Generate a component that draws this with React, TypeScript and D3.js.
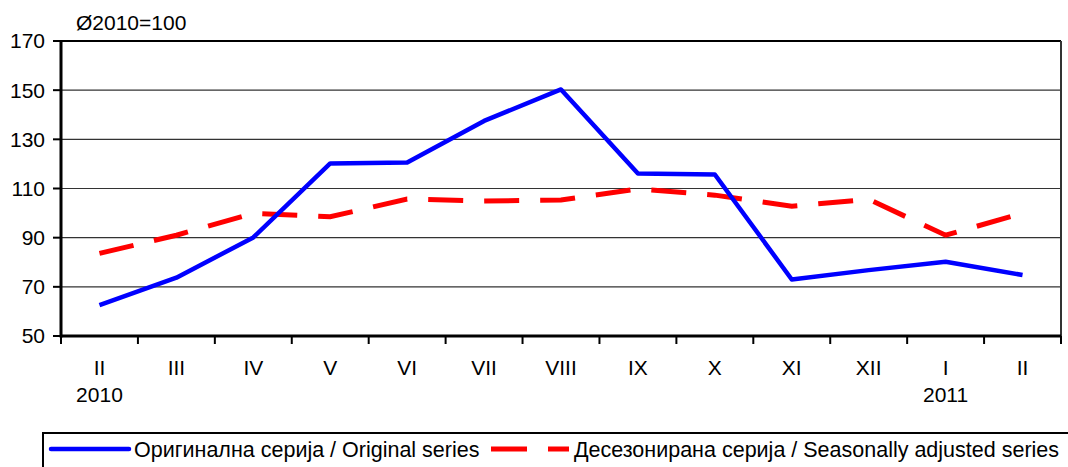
import React from "react";
import * as d3 from "d3";

const months = ["II", "III", "IV", "V", "VI", "VII", "VIII", "IX", "X", "XI", "XII", "I", "II"];
const yearLabels = [
  { index: 0, label: "2010" },
  { index: 11, label: "2011" },
];
const originalSeries = [62.6, 73.7, 90.1, 120.2, 120.6, 137.5, 150.3, 116.1, 115.7, 73.0, 76.8, 80.2, 74.8];
const adjustedSeries = [83.6, 91.0, 99.9, 98.5, 105.7, 104.9, 105.3, 109.8, 107.3, 102.8, 105.6, 91.0, 100.0];
const yTicks = [50, 70, 90, 110, 130, 150, 170];
const unitLabel = "Ø2010=100";
const legendOriginal = "Оригинална серија / Original series";
const legendAdjusted = "Десезонирана серија / Seasonally adjusted series";

const W = 1068;
const H = 467;
const left = 61;
const right = 1061;
const top = 41;
const bottom = 336;
const font = "'Liberation Sans', Arial, sans-serif";

export default function App() {
  const x = d3.scaleBand<number>().domain(d3.range(months.length)).range([left, right]).paddingInner(0).paddingOuter(0);
  const y = d3.scaleLinear().domain([50, 170]).range([bottom, top]);
  const cx = (i: number) => (x(i) as number) + x.bandwidth() / 2;
  const line = d3
    .line<number>()
    .x((_, i) => cx(i))
    .y((d) => y(d));

  const tickXs = d3.range(months.length + 1).map((i) => left + i * x.bandwidth());

  return (
    <div style={{ position: "absolute", left: 0, top: 0 }}>
      <svg width={W} height={H} style={{ display: "block" }} fontFamily={font}>
        <rect x={0} y={0} width={W} height={H} fill="#fff" />
        {/* gridlines */}
        {yTicks.slice(1, -1).map((t) => (
          <line key={t} x1={left} x2={right} y1={y(t)} y2={y(t)} stroke="#333" strokeWidth={1.2} />
        ))}
        {/* frame */}
        <line x1={left} x2={right} y1={top} y2={top} stroke="#000" strokeWidth={2} />
        <line x1={right} x2={right} y1={top} y2={bottom} stroke="#333" strokeWidth={2} />
        {/* y ticks */}
        {yTicks.map((t) => (
          <g key={t}>
            <line x1={left - 8} x2={left} y1={y(t)} y2={y(t)} stroke="#000" strokeWidth={2} />
            <text x={45} y={y(t)} dy="0.35em" textAnchor="end" fontSize={21} fill="#000">
              {t}
            </text>
          </g>
        ))}
        {/* x ticks */}
        {tickXs.map((tx, i) => (
          <line key={i} x1={tx} x2={tx} y1={bottom} y2={bottom + 8} stroke="#000" strokeWidth={2} />
        ))}
        {months.map((m, i) => (
          <text key={i} x={cx(i)} y={368} dy="0.35em" textAnchor="middle" fontSize={21} fill="#000">
            {m}
          </text>
        ))}
        {yearLabels.map((yl) => (
          <text key={yl.label} x={cx(yl.index)} y={395} dy="0.35em" textAnchor="middle" fontSize={21} fill="#000">
            {yl.label}
          </text>
        ))}
        {/* axes */}
        <line x1={left} x2={left} y1={top - 1} y2={bottom + 1.5} stroke="#000" strokeWidth={3} />
        <line x1={left} x2={right} y1={bottom} y2={bottom} stroke="#000" strokeWidth={3} />
        {/* series */}
        <path d={line(adjustedSeries) || ""} fill="none" stroke="#ff0000" strokeWidth={5} strokeDasharray="35 21" />
        <path d={line(originalSeries) || ""} fill="none" stroke="#0000ff" strokeWidth={4.5} strokeLinejoin="round" />
        {/* unit label */}
        <text x={76} y={30} fontSize={21} fill="#000">
          {unitLabel}
        </text>
        {/* legend */}
        <rect x={43} y={433} width={1040} height={60} fill="none" stroke="#000" strokeWidth={2} />
        <line x1={51} x2={129} y1={449} y2={449} stroke="#0000ff" strokeWidth={4.5} strokeLinecap="round" />
        <text x={134} y={449} dy="0.35em" fontSize={21.5} fill="#000">
          {legendOriginal}
        </text>
        <line x1={491} x2={569} y1={449} y2={449} stroke="#ff0000" strokeWidth={5} strokeDasharray="36 21" />
        <text x={574} y={449} dy="0.35em" fontSize={21.5} fill="#000">
          {legendAdjusted}
        </text>
      </svg>
    </div>
  );
}
